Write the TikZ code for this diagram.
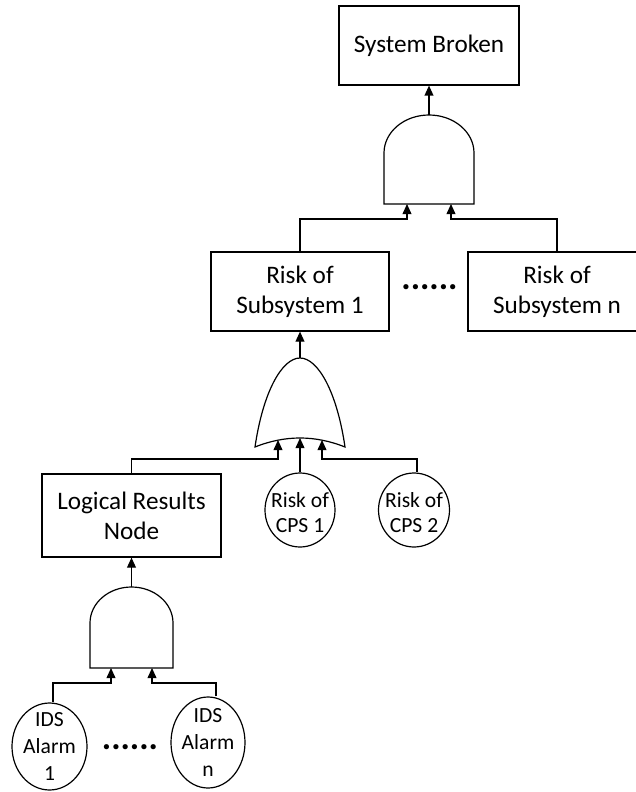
\documentclass[tikz,border=0pt]{standalone}
\usepackage{fontspec}
\setmainfont{Carlito}
\usetikzlibrary{shapes.geometric,arrows.meta}
\begin{document}
\begin{tikzpicture}[x=0.5pt,y=-0.5pt,line width=0.6pt,
  box/.style={draw, rectangle, align=center, inner sep=0pt,
    font=\fontsize{12.6pt}{15pt}\selectfont},
  round/.style={draw, ellipse, inner sep=0pt},
  rlabel/.style={align=center, inner sep=0pt,
    font=\fontsize{10.8pt}{13.5pt}\selectfont},
  clabel/.style={rlabel, font=\fontsize{10.8pt}{12.5pt}\selectfont},
  dots/.style={inner sep=0pt, font=\fontsize{17.5pt}{18pt}\bfseries},
  gate/.style={draw, line join=miter},
  arr/.style={-{Triangle[length=5pt,width=4.4pt]}}]
\useasboundingbox (0,0) rectangle (636,792);

% event boxes
\node[box, minimum width=90pt, minimum height=39.5pt] (top) at (429,45.5) {System Broken};
\node[box, minimum width=89pt, minimum height=39.5pt] (sub1) at (300,291.5) {Risk of\\Subsystem 1};
\node[box, minimum width=89pt, minimum height=39.5pt] (subn) at (557,291.5) {Risk of\\Subsystem n};
\node[dots] (dots1) at (429.5,287) {......};
\node[box, minimum width=89.5pt, minimum height=41.5pt] (logic) at (131.5,515.5) {Logical Results\\Node};

% basic events
\node[round, minimum width=35pt, minimum height=37pt,
  label={[clabel, yshift=-1.5pt]center:Risk of\\CPS 1}] (cps1) at (300,510) {};
\node[round, minimum width=35.5pt, minimum height=37pt,
  label={[clabel, yshift=-1.5pt]center:Risk of\\CPS 2}] (cps2) at (414,510) {};
\node[round, minimum width=37.5pt, minimum height=43.5pt,
  label={[rlabel]center:IDS\\Alarm\\1}] (a1) at (49.5,746.5) {};
\node[round, minimum width=37pt, minimum height=45.5pt,
  label={[rlabel]center:IDS\\Alarm\\n}] (an) at (208,742.5) {};
\node[dots] (dots2) at (130,747) {......};

% AND gate under System Broken
\draw[gate] (384,204) -- (384,153) arc[start angle=180, end angle=0, x radius=22.5pt, y radius=19pt] -- (474,204) -- cycle;
\coordinate (g1out) at (429,115);
\coordinate (g1inA) at (407,204);
\coordinate (g1inB) at (451,204);
\coordinate (j1a) at (407,219);
\coordinate (j1b) at (451,219);

% OR gate under Risk of Subsystem 1
\draw[gate] (255,447) .. controls (263,392) and (282,358) .. (300,358)
  .. controls (318,358) and (337,392) .. (345,447)
  .. controls (315,435) and (285,435) .. (255,447) -- cycle;
\coordinate (orout) at (300,358);
\coordinate (orinA) at (278,440);
\coordinate (orinB) at (300,438);
\coordinate (orinC) at (322,440);
\coordinate (j2a) at (278,459);
\coordinate (j2c) at (322,459);

% AND gate under Logical Results Node
\draw[gate] (90,668) -- (90,623) arc[start angle=180, end angle=0, x radius=20.75pt, y radius=18pt] -- (173,668) -- cycle;
\coordinate (g2out) at (131.5,587);
\coordinate (g2inA) at (111,668);
\coordinate (g2inB) at (152,668);
\coordinate (j3a) at (111,683);
\coordinate (j3b) at (152,683);

% connectors
\draw[arr] (g1out) -- (top.south);
\draw[arr] (sub1.north) |- (j1a) -- (g1inA);
\draw[arr] (subn.north) |- (j1b) -- (g1inB);
\draw[arr] (orout) -- (sub1.south);
\draw[arr] (logic.north) |- (j2a) -- (orinA);
\draw[arr] (cps1.north) -- (orinB);
\draw[arr] ([xshift=1.5pt]cps2.north) |- (j2c) -- (orinC);
\draw[arr] (g2out) -- (logic.south);
\draw[arr] ([xshift=1.75pt]a1.north) |- (j3a) -- (g2inA);
\draw[arr] ([xshift=4pt]an.north) |- (j3b) -- (g2inB);
\end{tikzpicture}
\end{document}
